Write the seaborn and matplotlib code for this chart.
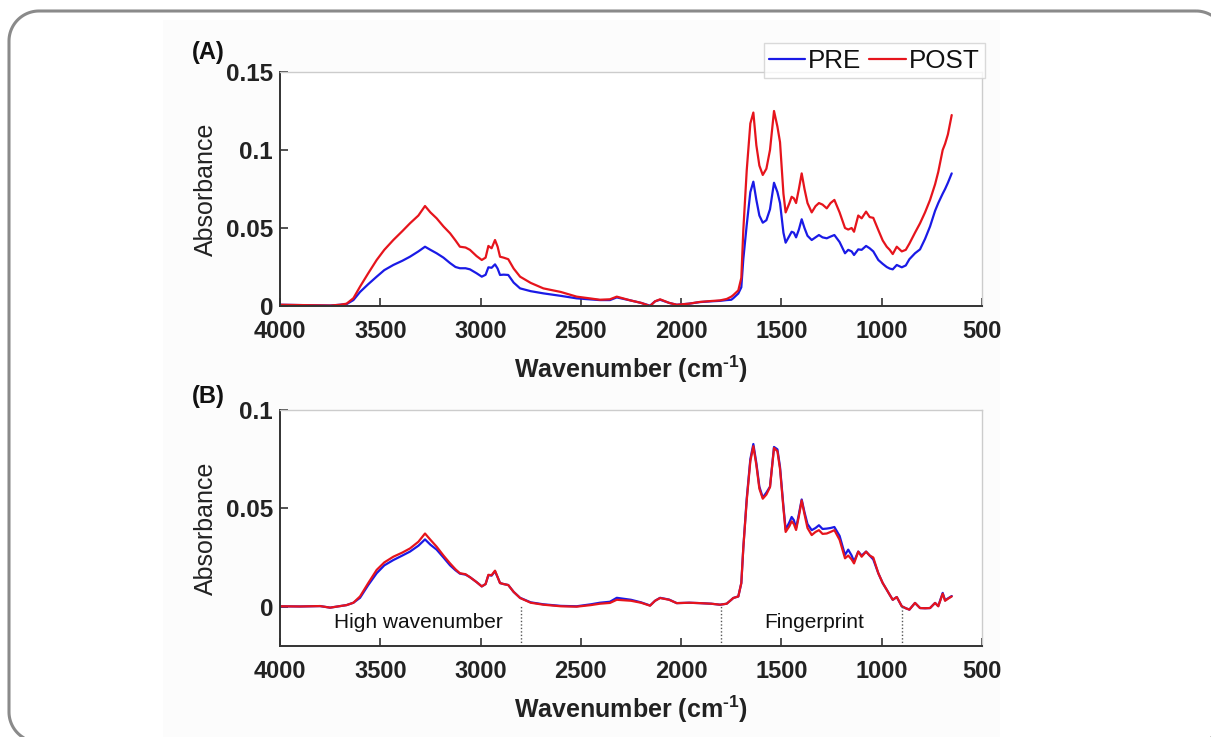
import numpy as np
import pandas as pd
import matplotlib
matplotlib.use("Agg")
import matplotlib.pyplot as plt
from matplotlib.patches import PathPatch, Rectangle
from matplotlib.path import Path
import seaborn as sns

# ---------------- data ----------------
wavenumber = [4000, 3900, 3800, 3750, 3700, 3668, 3634, 3601, 3560, 3518, 3480, 3435, 3390, 3352,
              3310, 3277, 3250, 3219, 3185, 3152, 3125, 3103, 3075, 3053, 3020, 2994, 2975, 2961,
              2945, 2928, 2915, 2903, 2885, 2862, 2835, 2803, 2750, 2687, 2600, 2521, 2450, 2405,
              2355, 2321, 2250, 2200, 2155, 2130, 2105, 2060, 2022, 1960, 1907, 1850, 1806, 1773,
              1750, 1740, 1715, 1700, 1690, 1673, 1655, 1640, 1625, 1610, 1593, 1575, 1557, 1537,
              1520, 1507, 1490, 1479, 1460, 1449, 1438, 1427, 1413, 1399, 1385, 1370, 1349, 1330,
              1313, 1295, 1274, 1255, 1236, 1210, 1183, 1167, 1150, 1138, 1117, 1100, 1078, 1060,
              1042, 1017, 995, 975, 960, 945, 925, 900, 880, 862, 834, 809, 784, 759, 734, 718,
              696, 684, 670, 651]

a_post = [0.0008, 0.0006, 0.0004, 0.0003, 0.0008, 0.0015, 0.005, 0.0124, 0.021, 0.0295, 0.036, 0.0423, 0.048, 0.053,
          0.058, 0.0641, 0.060, 0.0562, 0.051, 0.0466, 0.042, 0.038, 0.0375, 0.036, 0.032, 0.0295, 0.031, 0.0385,
          0.037, 0.0423, 0.038, 0.0316, 0.031, 0.030, 0.024, 0.0188, 0.0148, 0.0113, 0.009, 0.006, 0.0048, 0.0040,
          0.0043, 0.006, 0.0035, 0.002, 0.0, 0.003, 0.0043, 0.002, 0.0008, 0.0015, 0.0026, 0.0032, 0.0036, 0.0045,
          0.006, 0.007, 0.010, 0.018, 0.0487, 0.087, 0.117, 0.124, 0.103, 0.090, 0.084, 0.088, 0.100, 0.125,
          0.115, 0.105, 0.072, 0.060, 0.066, 0.070, 0.069, 0.066, 0.075, 0.085, 0.075, 0.066, 0.060, 0.064,
          0.066, 0.065, 0.0626, 0.066, 0.068, 0.060, 0.050, 0.049, 0.050, 0.0476, 0.058, 0.0562, 0.0605, 0.057,
          0.0565, 0.0487, 0.042, 0.038, 0.036, 0.0333, 0.038, 0.035, 0.036, 0.040, 0.047, 0.053, 0.060, 0.068, 0.078, 0.086,
          0.100, 0.104, 0.110, 0.1224]

a_pre = [0.0008, 0.0006, 0.0004, 0.0003, 0.0008, 0.0012, 0.0038, 0.009, 0.014, 0.0188, 0.023, 0.0263, 0.029, 0.0316,
         0.035, 0.038, 0.036, 0.0338, 0.031, 0.0275, 0.025, 0.0242, 0.0242, 0.0235, 0.021, 0.0188, 0.020, 0.0248,
         0.0245, 0.0267, 0.024, 0.0199, 0.0201, 0.0199, 0.015, 0.0113, 0.0095, 0.0081, 0.0065, 0.0049, 0.0042, 0.0038,
         0.0038, 0.0055, 0.0035, 0.002, 0.0002, 0.003, 0.004, 0.002, 0.0008, 0.0015, 0.0025, 0.003, 0.0033, 0.0038,
         0.004, 0.005, 0.008, 0.012, 0.030, 0.052, 0.073, 0.0797, 0.068, 0.058, 0.0534, 0.055, 0.062, 0.079,
         0.073, 0.066, 0.047, 0.0406, 0.045, 0.0476, 0.047, 0.044, 0.049, 0.0556, 0.050, 0.045, 0.0423, 0.044,
         0.0455, 0.044, 0.0434, 0.0445, 0.0455, 0.041, 0.0338, 0.036, 0.035, 0.0327, 0.0363, 0.036, 0.0385, 0.037,
         0.035, 0.0295, 0.027, 0.025, 0.024, 0.0235, 0.0263, 0.0248, 0.026, 0.030, 0.0338, 0.0363, 0.043, 0.051, 0.061, 0.066,
         0.072, 0.075, 0.079, 0.085]

b_post = [0.0002, 0.0001, 0.0003, -0.0005, 0.0003, 0.0008, 0.002, 0.0052, 0.012, 0.0187, 0.0225, 0.0254, 0.0275, 0.0296,
          0.033, 0.0372, 0.034, 0.0305, 0.026, 0.022, 0.019, 0.017, 0.0165, 0.015, 0.0125, 0.0103, 0.0115, 0.0162,
          0.016, 0.0183, 0.015, 0.012, 0.0115, 0.011, 0.0075, 0.0044, 0.002, 0.001, 0.0002, 0.0, 0.0008, 0.0015,
          0.0019, 0.0035, 0.0030, 0.002, 0.0005, 0.003, 0.0044, 0.0035, 0.0018, 0.002, 0.0018, 0.0015, 0.001, 0.0015,
          0.0035, 0.0044, 0.0052, 0.012, 0.030, 0.054, 0.074, 0.0816, 0.072, 0.060, 0.0549, 0.057, 0.0608, 0.0807,
          0.079, 0.070, 0.050, 0.038, 0.041, 0.0434, 0.042, 0.039, 0.046, 0.054, 0.047, 0.040, 0.0364, 0.038,
          0.0389, 0.037, 0.0372, 0.038, 0.0389, 0.034, 0.0246, 0.026, 0.024, 0.022, 0.028, 0.0254, 0.028, 0.026,
          0.025, 0.017, 0.012, 0.0086, 0.006, 0.0035, 0.0049, 0.0002, -0.0008, -0.0015, 0.0019, -0.0007, -0.0008, -0.0007, 0.0019, 0.0002,
          0.0066, 0.003, 0.004, 0.0052]

b_pre = [0.0002, 0.0001, 0.0003, -0.0005, 0.0003, 0.0008, 0.002, 0.0045, 0.011, 0.017, 0.021, 0.0237, 0.026, 0.028,
         0.031, 0.0342, 0.0315, 0.029, 0.025, 0.021, 0.0185, 0.0168, 0.0163, 0.015, 0.0125, 0.0103, 0.0115, 0.016,
         0.0158, 0.018, 0.015, 0.012, 0.0115, 0.011, 0.0075, 0.0045, 0.0022, 0.0012, 0.0004, 0.0002, 0.0012, 0.002,
         0.0025, 0.0045, 0.0035, 0.0022, 0.0006, 0.003, 0.0045, 0.0036, 0.0018, 0.002, 0.0018, 0.0015, 0.001, 0.0015,
         0.0035, 0.0044, 0.0052, 0.012, 0.030, 0.055, 0.075, 0.0827, 0.073, 0.061, 0.0555, 0.058, 0.061, 0.0812,
         0.080, 0.071, 0.051, 0.0392, 0.043, 0.0456, 0.044, 0.040, 0.047, 0.0545, 0.048, 0.042, 0.0389, 0.040,
         0.0414, 0.0395, 0.0397, 0.040, 0.0405, 0.036, 0.0263, 0.029, 0.026, 0.023, 0.028, 0.026, 0.028, 0.026,
         0.024, 0.017, 0.012, 0.0086, 0.006, 0.0035, 0.0049, 0.0002, -0.0008, -0.0015, 0.0019, -0.0007, -0.0008, -0.0007, 0.0019, 0.0003,
         0.007, 0.0032, 0.0042, 0.0054]

series_names = ["PRE", "POST"]
series_colors = {"PRE": "#1a1ae6", "POST": "#e6141c"}
x_ticks = [4000, 3500, 3000, 2500, 2000, 1500, 1000, 500]
a_yticks = [0, 0.05, 0.1, 0.15]
a_yticklabels = ["0", "0.05", "0.1", "0.15"]
b_yticks = [0, 0.05, 0.1]
b_yticklabels = ["0", "0.05", "0.1"]
region_bounds = [2800, 1800, 900]
region_labels = ["High wavenumber", "Fingerprint"]
region_label_x = [3308, 1336]

# ---------------- styling ----------------
sns.set_theme(style="white")
plt.rcParams["font.family"] = ["Liberation Sans", "DejaVu Sans"]
plt.rcParams["mathtext.fontset"] = "custom"
plt.rcParams["mathtext.rm"] = "Liberation Sans:bold"
plt.rcParams["mathtext.bf"] = "Liberation Sans:bold"

W, H = 1211, 737
fig = plt.figure(figsize=(W / 100, H / 100), dpi=100)
fig.patch.set_facecolor("white")


def rounded_frame(x0, y0, x1, y1, r, n=24):
    """Closed rounded-rectangle outline in pixel coords (y measured from the top)."""
    pts = []
    corners = [((x1 - r, y0 + r), -90, 0), ((x1 - r, y1 - r), 0, 90),
               ((x0 + r, y1 - r), 90, 180), ((x0 + r, y0 + r), 180, 270)]
    for (cx, cy), a0, a1 in corners:
        ang = np.radians(np.linspace(a0, a1, n))
        pts.extend(zip(cx + r * np.cos(ang), cy + r * np.sin(ang)))
    pts.append(pts[0])
    return Path(pts)


# background layer in pixel coordinates (y measured downward from the top)
bg = fig.add_axes([0, 0, 1, 1], zorder=-10)
bg.set_xlim(0, W)
bg.set_ylim(H, 0)
bg.axis("off")
bg.add_patch(Rectangle((163, 20), 1000 - 163, H - 20, facecolor="#fcfcfc", edgecolor="none"))
bg.add_patch(PathPatch(rounded_frame(9, 11, 1226, 742, 30), facecolor="none",
                       edgecolor="#8a8a8a", linewidth=2.2))


def make_df(pre, post):
    return pd.DataFrame({
        "Wavenumber": wavenumber * 2,
        "Absorbance": list(pre) + list(post),
        "Series": ["PRE"] * len(pre) + ["POST"] * len(post),
    })


def style_axis(ax, yticks, yticklabels, ylim):
    ax.set_facecolor("white")
    ax.set_xlim(4000, 500)
    ax.set_ylim(*ylim)
    ax.set_xticks(x_ticks)
    ax.set_xticklabels([str(t) for t in x_ticks], fontsize=17, fontweight="bold", color="#222222")
    ax.set_yticks(yticks)
    ax.set_yticklabels(yticklabels, fontsize=17.5, fontweight="bold", color="#222222")
    ax.tick_params(axis="x", direction="in", length=6, width=1.2, pad=10, colors="#333333",
                   labelcolor="#222222", top=False, bottom=True)
    ax.tick_params(axis="y", direction="in", length=6, width=1.2, pad=5, colors="#333333",
                   labelcolor="#222222", left=True, right=False)
    for s in ["left", "bottom"]:
        ax.spines[s].set_color("#333333")
        ax.spines[s].set_linewidth(1.4)
    for s in ["top", "right"]:
        ax.spines[s].set_color("#cccccc")
        ax.spines[s].set_linewidth(1.0)
    ax.set_xlabel(r"Wavenumber (cm$^{\text{-1}}$)", fontsize=18, fontweight="bold",
                  color="#222222", labelpad=8)
    ax.set_ylabel("Absorbance", fontsize=18, color="#222222", labelpad=6)
    ax.grid(False)


axA = fig.add_axes([280 / W, 1 - 306 / H, 702 / W, 234 / H])
axB = fig.add_axes([280 / W, 1 - 646 / H, 702 / W, 236 / H])

sns.lineplot(data=make_df(a_pre, a_post), x="Wavenumber", y="Absorbance", hue="Series",
             hue_order=series_names, palette=series_colors, linewidth=1.6, sort=False,
             estimator=None, ax=axA)
sns.lineplot(data=make_df(b_pre, b_post), x="Wavenumber", y="Absorbance", hue="Series",
             hue_order=series_names, palette=series_colors, linewidth=1.6, sort=False,
             estimator=None, ax=axB, legend=False)

style_axis(axA, a_yticks, a_yticklabels, (0, 0.15))
style_axis(axB, b_yticks, b_yticklabels, (-0.02, 0.1))

# legend of panel A
handles, labels = axA.get_legend_handles_labels()
leg = axA.legend(handles, labels, ncol=2, loc="lower right", bbox_to_anchor=(1.004, 0.975),
                 frameon=True, fancybox=False, fontsize=18.7, handlelength=1.4,
                 handletextpad=0.12, columnspacing=0.3, borderpad=0.2, borderaxespad=0)
leg.get_frame().set_edgecolor("#d0d0d0")
leg.get_frame().set_linewidth(1.0)
for t in leg.get_texts():
    t.set_color("#111111")

# region dividers and labels in panel B
for xb in region_bounds:
    axB.plot([xb, xb], [-0.02, 0.001], linestyle=(0, (1, 1.5)), color="#555555", linewidth=1.0)
for lbl, xl in zip(region_labels, region_label_x):
    axB.text(xl, -0.0082, lbl, ha="center", va="center", fontsize=15, color="#111111")

# panel letters
fig.text(208 / W, 1 - 53 / H, "(A)", ha="center", va="center", fontsize=17, fontweight="bold", color="#111111")
fig.text(208 / W, 1 - 397 / H, "(B)", ha="center", va="center", fontsize=17, fontweight="bold", color="#111111")

fig.savefig("out.png", dpi=100)
